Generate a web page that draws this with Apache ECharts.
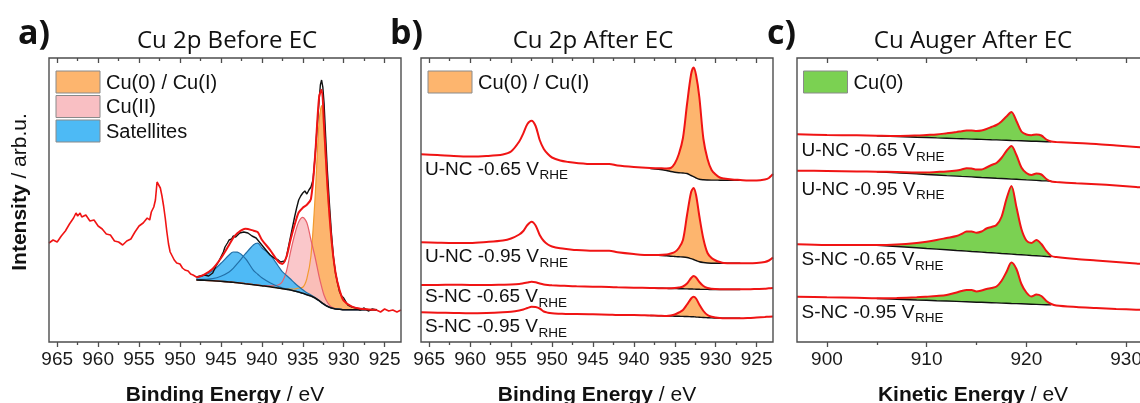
<!DOCTYPE html>
<html><head><meta charset="utf-8">
<script src="https://cdn.jsdelivr.net/npm/echarts@6/dist/echarts.min.js"></script>
<style>html,body{margin:0;padding:0;background:#fff}#chart{width:1140px;height:403px}</style>
</head><body><div id="chart"></div>
<script>
// ================= DATA =================
// ---- Panel a: Cu 2p before EC (binding energy, eV) ----
const aRawX = [966,965.5,965,964.5,964,963.5,963,962.7,962.5,962.2,962,961.5,961,960.5,960,959.5,959,958.5,958,957.5,957,956.5,956,955.5,955,954.5,954,953.7,953.5,953.2,953,952.8,952.6,952.4,952.2,952,951.8,951.6,951.4,951.2,951,950.7,950.4,950,949.7,949.4,949,948.7,948.4,948,
  947.5,947,946.5,946,945.6,945.3,945,944.7,944.5,944.2,944,943.7,943.5,943.2,943,942.7,942.5,942.2,942,941.7,941.5,941.2,941,940.7,940.5,940.2,940,939.5,939,938.5,938,937.7,937.5,937.2,937,936.75,936.5,936.25,936,935.75,935.5,935.25,935,934.75,934.5,934.25,934,933.75,933.5,933.25,933,932.85,932.7,932.55,932.4,932.2,932,931.75,931.5,931.25,931,930.75,930.5,930.25,930,929.5,929,928.5,928,927.5,927,926.5,926,
  925.5,925,924.5,924,923.5,923];
const aRawY = [99,102,100,106,111,118,124,129,126,129,125,127,121,122,116,113,108,107,101,100,97,101,103,110,116,119,124,122,130,135,142,160,158,154,146,136,124,110,98,90,88,82,79,78,74,72,71,68,67,65,
  66,67,66,69,76,80,85,90,95,99,102,103,106,105,107,109,108,110,108,109,107,106,105,104,102,99,97,92,87,84,82,80,80,81,85,95,105,115,125,134,142,146,149,151,148,152,155,162,185,215,242,257,262,255,239,205,172,139,109,85,69,59,50,46,44,37,35,34,32,34,31,33,32,
  30,33,31,32,30,32];
const aFitX      = [948,947,946,945,944,943.5,943,942,941,940.5,940,939,938,937.5,937,936.5,936,935.5,935,934.5,934,933.5,933,932.7,932.4,932,931.5,931,930.5,930,929,928,927,926];
const aBaseline  = [62,61.7,61.3,60.7,60,59.7,59.3,58.3,57.3,56.8,56.3,55.3,54,53.3,52.7,52,51,50,48.7,47.3,46,44,41.3,39.3,37.7,35.7,34,33,32.7,32.3,32.3,32.3,32.3,32.3];
const aSat1      = [2,5,10,18,27,30.3,30.5,25,14,11,8,4,1.5,0.8,0.3,0,0,0,0,0,0,0,0,0,0,0,0,0,0,0,0,0,0,0];
const aSat2      = [0.5,1,2,5,10,14,19,30,40,42,38,32,22,17,14,11,8,5.5,3.5,2,1,0.5,0.2,0,0,0,0,0,0,0,0,0,0,0];
const aCuII      = [0,0,0,0,0,0,0,0,0,0,0,0.8,3,7,18,38,56,70,76,72,56,41,24,16,9,4,1,0.3,0,0,0,0,0,0];
const aCu0CuI    = [0,0,0,0,0,0,0,0,0,0,0,0,0,0,0,1,2,4,6,16,40,100,180,197,170,118,68,36,19,9,3,1,0.3,0];

// ---- Panel b: Cu 2p after EC ----
const bX     = [966,964,962,960,958,956,955,954,953.5,953,952.5,952,951.5,951,950.5,950,949,948,947,945,943,942,940,938,937,936,935.5,935,934.5,934,933.5,933,932.7,932.4,932,931.5,931,930.5,930,929.5,929,928,927,926,925,924,923.5,923];
const bU065  = [187.7,187,186,185.5,186,187.5,190.5,200.5,208.7,218,221.3,216,202,193,188,184.5,181.5,180,179,178,178,176.5,175,174,173.8,173.5,174,178.5,188,204,238,268,274.5,267,245,203,183,172,167.5,164.5,163.5,162.5,162,161.5,161.5,162.5,164,168];
const bU095  = [99.7,99.3,99,99,100,101.5,103.5,107.5,111,117,120.3,116.5,107,101,97.5,95.5,93.7,92.8,92,91.3,91.3,89.7,88,87,87,87.5,88.5,90,94,102,127,150,154,147,126,103,89,84,81.5,80,79,78.7,78.7,78.7,79,80,81.5,84.5];
const bS065  = [57,57,57.3,57,57,57.3,57.5,58,58.7,59.5,60.3,59.8,58.5,57.5,57,56.7,56.3,56,55.7,55.3,55,54.7,54.3,54,53.8,53.7,53.8,54,54.5,55.5,58.5,64,66,64.5,60,56,54,53.3,53,52.8,52.7,52.7,52.7,52.7,53,53.3,53.7,54];
const bS095  = [29.7,29.3,29,28.7,29,29.7,30.3,31.5,32.5,34,35.3,35,33.5,30.5,29.3,28.7,28.3,28,28,27.7,27.3,27,27,26.5,26.3,26,26.5,27.5,29.5,32,37.5,43.5,45.3,43.5,37.5,31,27,25.3,24.5,24,23.7,23.7,23.7,24,24.5,25,25.3,25.5];
const bFitX     = [938,937,936,935.5,935,934.5,934,933.5,933,932.7,932.4,932,931.5,931,930.5,930,929.5,929,928,927];
const bBaseU065 = [173.5,172.8,171.5,170.5,169.8,169.3,169,168.5,166.5,165.3,164,162.7,162.2,162,161.9,161.9,161.8,161.8,161.8,161.8];
const bBaseU095 = [87,86.8,86.2,85.8,85.5,85.2,85,84.5,83.3,82.5,81.5,80.3,79.5,79,78.8,78.7,78.7,78.7,78.7,78.7];
const bBaseS065 = [54,53.8,53.6,53.5,53.4,53.3,53.2,53.1,53,52.9,52.8,52.7,52.6,52.6,52.5,52.5,52.5,52.5,52.5,52.5];
const bBaseS095 = [26.5,26.3,26,25.9,25.8,25.7,25.6,25.5,25.3,25.2,25,24.8,24.5,24.3,24.1,24,23.9,23.8,23.7,23.7];

// ---- Panel c: Cu Auger after EC (kinetic energy, eV) ----
const cX     = [897,900,903,905,907,909,910,911,912,913,913.5,914,914.5,915,915.5,916,916.5,917,917.5,918,918.5,919,919.5,920,920.5,921,921.5,922,922.5,923,925,927,929,931,933,935];
const cU065  = [207.7,207,206.7,206.3,206,206.5,207,207.5,208.7,210,210.8,211.5,211.5,211,211.5,213,215,217,220.5,225.5,230,221,210.5,207.5,206.8,207.5,206.5,202.5,200.5,200,199,198,196.5,195,193.5,192];
const cU095  = [171.3,171,170.5,170.3,170,169.5,169.5,170,170.5,171.5,172.5,173.7,173.5,172.5,172.5,174.5,177,179,184,191,196,187,174.5,169,167,168.5,167.5,163,160.5,160,158.7,157.7,156.5,155,153.5,152.5];
const cS065  = [97.7,97,97,97,97.5,99,100.3,102,104,106,108,110.5,110.5,109.3,110.5,113.5,115,117,125,143,156,135,113,101.5,99,102,98,91,86,85,83,81.5,80,78.5,77,76];
const cS095  = [45.3,44.7,44.2,43.7,44,44.7,45.3,46,47,49.5,51,52,52,50.5,51.5,53,54,55.5,61,70,79.5,73,58,49.5,45.5,47.5,46,41,38,36.5,35,34,33,32.3,31.5,31];
const cFitX     = [905,907,909,910,911,912,913,913.5,914,914.5,915,915.5,916,916.5,917,917.5,918,918.5,919,919.5,920,920.5,921,921.5,922,922.5];
const cBaseU065 = [206.2,205.5,204.8,204.5,204.1,203.8,203.4,203.3,203.1,202.9,202.8,202.6,202.4,202.2,202.1,201.9,201.7,201.5,201.4,201.2,201.0,200.8,200.7,200.5,200.3,200.2];
const cBaseU095 = [170.2,169.1,168.1,167.5,167.0,166.4,165.9,165.6,165.4,165.1,164.8,164.5,164.3,164.0,163.7,163.5,163.2,162.9,162.7,162.4,162.1,161.9,161.6,161.3,161.1,160.8];
const cBaseS065 = [96.8,95.5,94.2,93.5,92.9,92.2,91.5,91.2,90.9,90.5,90.2,89.9,89.5,89.2,88.9,88.5,88.2,87.9,87.5,87.2,86.9,86.5,86.2,85.9,85.5,85.2];
const cBaseS095 = [43.5,42.8,42.0,41.7,41.3,41.0,40.6,40.4,40.2,40.0,39.8,39.7,39.5,39.3,39.1,38.9,38.7,38.5,38.4,38.2,38.0,37.8,37.6,37.4,37.3,37.1];

// ---- ticks & texts ----
const bindingTicks = [965,960,955,950,945,940,935,930,925];
const bindingMinor = [962.5,957.5,952.5,947.5,942.5,937.5,932.5,927.5];
const kineticTicks = [900,910,920,930];
const kineticMinor = [905,915,925];
const panelTitles  = ['Cu 2p Before EC','Cu 2p After EC','Cu Auger After EC'];
const panelLetters = ['a)','b)','c)'];
const aLegend      = ['Cu(0) / Cu(I)','Cu(II)','Satellites'];
const bLegend      = ['Cu(0) / Cu(I)'];
const cLegend      = ['Cu(0)'];
const sampleNames  = ['U-NC -0.65 V','U-NC -0.95 V','S-NC -0.65 V','S-NC -0.95 V'];
const subText      = 'RHE';

// ================= STYLE =================
const AX = '#4d4d4d';
const SANS = '"Liberation Sans", Arial, sans-serif';
const TITLEF = '"Open Sans", sans-serif';
const RED = '#f01414';
const ORANGE = '#fdb56e', PINK = '#f9bfc3', BLUE = '#4dbaf5', GREEN = '#7bd152';

const pairs = (xs, ys) => xs.map((x, i) => [x, ys[i]]);
const pick = (xs, ys, sub) => sub.map(x => ys[xs.indexOf(x)]);

function xAxes(g, min, max, inverse, majors, minors) {
  const base = {type:'value', gridIndex:g, min, max, inverse, splitLine:{show:false}, axisLine:{show:false}, axisPointer:{show:false}};
  const tl = {color:AX, width:1.3};
  return [
    Object.assign({}, base, {position:'bottom', axisTick:{show:true, customValues:majors, length:5, inside:false, lineStyle:tl},
      axisLabel:{show:true, customValues:majors, fontSize:19, color:'#1a1a1a', fontFamily:SANS, margin:8}}),
    Object.assign({}, base, {position:'bottom', axisTick:{show:true, customValues:minors, length:3, inside:false, lineStyle:tl}, axisLabel:{show:false}}),
    Object.assign({}, base, {position:'top', axisTick:{show:true, customValues:majors, length:5, inside:true, lineStyle:tl}, axisLabel:{show:false}}),
    Object.assign({}, base, {position:'top', axisTick:{show:true, customValues:minors, length:3, inside:true, lineStyle:tl}, axisLabel:{show:false}})
  ];
}

const series = [];
function line(g, data, opts) {
  series.push(Object.assign({type:'line', xAxisIndex:g*4, yAxisIndex:g, data, symbol:'none', showSymbol:false, silent:true, animation:false, z:2}, opts));
}
// area from a curve down to the axis bottom
function fillDown(g, xs, top, color, opacity) {
  line(g, pairs(xs, top), {smooth:0.3, lineStyle:{width:0, opacity:0}, areaStyle:{color, opacity, origin:'start'}});
}
// white mask under a baseline (a little wider than the fill) so the fill only remains between curve and baseline
function clearBelow(g, xs, base, pad) {
  const n = xs.length, dir = xs[0] > xs[n - 1] ? 1 : -1;
  const mx = [xs[0] + dir * pad].concat(xs, [xs[n - 1] - dir * pad]);
  const mb = [base[0]].concat(base, [base[n - 1]]);
  line(g, pairs(mx, mb), {smooth:0.3, lineStyle:{width:0, opacity:0}, areaStyle:{color:'#ffffff', opacity:1, origin:'start'}});
}

// ---- Panel a ----
const compTop = comp => aBaseline.map((b, i) => b + comp[i]);
fillDown(0, aFitX, compTop(aCu0CuI), ORANGE, 1);
fillDown(0, aFitX, compTop(aCuII), PINK, 0.88);
fillDown(0, aFitX, compTop(aSat2), BLUE, 0.92);
fillDown(0, aFitX, compTop(aSat1), BLUE, 0.92);
clearBelow(0, aFitX, aBaseline, 0.4);
line(0, pairs(aFitX, compTop(aCu0CuI)), {smooth:0.3, lineStyle:{color:'#f29a2e', width:1.2}});
line(0, pairs(aFitX, compTop(aCuII)), {smooth:0.3, lineStyle:{color:'#e8606a', width:1.2}});
line(0, pairs(aFitX, compTop(aSat2)), {smooth:0.3, lineStyle:{color:'#2270a8', width:1.2}});
line(0, pairs(aFitX, compTop(aSat1)), {smooth:0.3, lineStyle:{color:'#2270a8', width:1.2}});
line(0, pairs(aFitX, aBaseline), {smooth:0.3, lineStyle:{color:'#111', width:1.6}});
const aPairs = pairs(aRawX, aRawY);
line(0, aPairs.filter(p => p[0] <= 948 && p[0] >= 926), {lineStyle:{color:'#111', width:1.4}});
line(0, aPairs.filter(p => p[0] >= 948), {lineStyle:{color:RED, width:1.6}});
line(0, aPairs.filter(p => p[0] <= 926), {lineStyle:{color:RED, width:1.6}});
const aEnvelope = aBaseline.map((b, i) => b + aSat1[i] + aSat2[i] + aCuII[i] + aCu0CuI[i]);
line(0, pairs(aFitX, aEnvelope), {smooth:0.3, lineStyle:{color:RED, width:2}});

// ---- Panel b ----
const bSpectra = [[bU065, bBaseU065],[bU095, bBaseU095],[bS065, bBaseS065],[bS095, bBaseS095]];
bSpectra.forEach(([sp, base]) => {
  fillDown(1, bFitX, pick(bX, sp, bFitX), ORANGE, 1);
  clearBelow(1, bFitX, base, 0.4);
});
bSpectra.forEach(([sp, base]) => {
  line(1, pairs(bFitX, base), {smooth:0.3, lineStyle:{color:'#111', width:1.4}});
  line(1, pairs(bX, sp), {smooth:0.3, lineStyle:{color:RED, width:2}});
});

// ---- Panel c ----
const cSpectra = [[cU065, cBaseU065],[cU095, cBaseU095],[cS065, cBaseS065],[cS095, cBaseS095]];
cSpectra.forEach(([sp, base]) => {
  fillDown(2, cFitX, pick(cX, sp, cFitX), GREEN, 1);
  clearBelow(2, cFitX, base, 0.4);
});
cSpectra.forEach(([sp, base]) => {
  line(2, pairs(cFitX, base), {lineStyle:{color:'#111', width:1.4}});
  line(2, pairs(cX, sp), {smooth:0.3, lineStyle:{color:RED, width:2}});
});

// ================= GRAPHICS (texts, frames) =================
const mctx = document.createElement('canvas').getContext('2d');
function tw(text, font) { mctx.font = font; return mctx.measureText(text).width; }
const graphic = [];
function txt(x, y, text, font, align) {
  graphic.push({type:'text', x, y, silent:true, z:100,
    style:{text, font, fill:'#111', align:align || 'left', verticalAlign:'middle', textAlign:align || 'left', textVerticalAlign:'middle'}});
}
// plot frames
[[49, 352], [421, 352], [797, 379]].forEach(([l, w]) => {
  graphic.push({type:'rect', silent:true, z:90, shape:{x:l, y:58, width:w, height:284},
    style:{fill:'none', stroke:AX, lineWidth:1.4}});
});
const titleX = [227, 593, 973];
panelTitles.forEach((t, i) => txt(titleX[i], 41, t, '24px ' + TITLEF, 'center'));
const letterX = [18, 390, 767];
panelLetters.forEach((t, i) => txt(letterX[i], 34, t, 'bold 34px ' + TITLEF, 'left'));

function legend(x0, ys, labels, colors) {
  labels.forEach((l, i) => {
    graphic.push({type:'rect', silent:true, z:100, shape:{x:x0, y:ys[i]-11, width:44, height:22},
      style:{fill:colors[i], stroke:'#8a8a8a', lineWidth:1}});
    txt(x0 + 50, ys[i] + 1, l, '20px ' + SANS, 'left');
  });
}
legend(56, [82, 106.5, 131], aLegend, [ORANGE, PINK, BLUE]);
legend(428, [82], bLegend, [ORANGE]);
legend(803.5, [82], cLegend, [GREEN]);

function sample(x, y, name) {
  const f = '19px ' + SANS;
  txt(x, y, name, f, 'left');
  txt(x + tw(name, f) + 0.5, y + 6, subText, '13.5px ' + SANS, 'left');
}
[169.5, 257, 297, 327].forEach((y, i) => sample(425, y, sampleNames[i]));
[151, 189.5, 260, 312.5].forEach((y, i) => sample(801.5, y, sampleNames[i]));

const axisRich = {b:{fontFamily:SANS, fontWeight:'bold', fontSize:21, fill:'#111'}, n:{fontFamily:SANS, fontSize:21, fill:'#111'}};
function richTxt(x, y, text, rotation) {
  graphic.push({type:'text', x, y, rotation:rotation || 0, silent:true, z:100,
    style:{text, rich:axisRich, font:'21px ' + SANS, fill:'#111', align:'center', verticalAlign:'middle', textAlign:'center', textVerticalAlign:'middle'}});
}
richTxt(225, 395, '{b|Binding Energy}{n| / eV}');
richTxt(597, 395, '{b|Binding Energy}{n| / eV}');
richTxt(973, 395, '{b|Kinetic Energy}{n| / eV}');
richTxt(20, 192, '{b|Intensity}{n| / arb.u.}', Math.PI / 2);

// ================= CHART =================
const gridBase = {show:false, containLabel:false, outerBoundsMode:'none'};
const chart = echarts.init(document.getElementById('chart'), null, {renderer:'canvas'});
chart.setOption({
  animation:false,
  backgroundColor:'#fff',
  textStyle:{fontFamily:SANS},
  grid:[
    Object.assign({left:49, top:58, width:352, height:284}, gridBase),
    Object.assign({left:421, top:58, width:352, height:284}, gridBase),
    Object.assign({left:797, top:58, width:379, height:284}, gridBase)
  ],
  xAxis: [].concat(
    xAxes(0, 923, 966, true, bindingTicks, bindingMinor),
    xAxes(1, 923, 966, true, bindingTicks, bindingMinor),
    xAxes(2, 897, 935, false, kineticTicks, kineticMinor)
  ),
  yAxis:[0,1,2].map(g => ({type:'value', gridIndex:g, min:0, max:284, show:false})),
  series,
  graphic
});
</script></body></html>
